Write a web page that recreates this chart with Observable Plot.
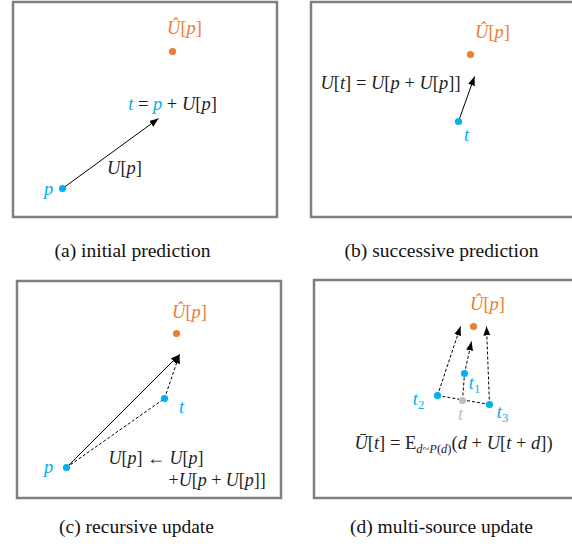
<!DOCTYPE html>
<html><head><meta charset="utf-8">
<script src="https://cdn.jsdelivr.net/npm/d3@7"></script>
<script src="https://cdn.jsdelivr.net/npm/@observablehq/plot@0.6"></script>
<style>body{margin:0;background:#fff} svg{display:block}</style>
</head><body><div id="chart"></div>
<script>
// Panel frames (diagram coordinates, y downward)
const frames = [
  {panel: "a", x1: 13, y1: 2, x2: 277, y2: 217},
  {panel: "b", x1: 311, y1: 2, x2: 584, y2: 217},
  {panel: "c", x1: 17, y1: 281, x2: 281, y2: 498},
  {panel: "d", x1: 314, y1: 280, x2: 584, y2: 498}
];
const captions = [
  {x: 132, y: 250, label: "(a) initial prediction"},
  {x: 441, y: 250, label: "(b) successive prediction"},
  {x: 136, y: 526, label: "(c) recursive update"},
  {x: 441, y: 526, label: "(d) multi-source update"}
];
// Points: kind = source (blue), target (orange), mean (gray)
const points = [
  {panel: "a", x: 62, y: 188, kind: "source"},
  {panel: "a", x: 172, y: 51, kind: "target"},
  {panel: "b", x: 458, y: 121, kind: "source"},
  {panel: "b", x: 470, y: 54, kind: "target"},
  {panel: "c", x: 66, y: 467, kind: "source"},
  {panel: "c", x: 164, y: 398, kind: "source"},
  {panel: "c", x: 176, y: 333, kind: "target"},
  {panel: "d", x: 473, y: 326, kind: "target"},
  {panel: "d", x: 464, y: 373, kind: "source"},
  {panel: "d", x: 437, y: 395, kind: "source"},
  {panel: "d", x: 489, y: 404, kind: "source"},
  {panel: "d", x: 462, y: 400, kind: "mean"}
];
const solidArrows = [
  {panel: "a", x1: 62, y1: 188, x2: 158, y2: 118},
  {panel: "b", x1: 458, y1: 121, x2: 474, y2: 76},
  {panel: "c", x1: 66, y1: 467, x2: 179, y2: 354}
];
const dashedArrows = [
  {panel: "c", x1: 164, y1: 398, x2: 179, y2: 354},
  {panel: "d", x1: 437, y1: 395, x2: 460, y2: 326},
  {panel: "d", x1: 464, y1: 373, x2: 471, y2: 341},
  {panel: "d", x1: 489, y1: 404, x2: 486, y2: 326}
];
const dashedLines = [
  {panel: "c", x1: 66, y1: 467, x2: 164, y2: 398},
  {panel: "d", x1: 437, y1: 395, x2: 489, y2: 404},
  {panel: "d", x1: 462, y1: 400, x2: 464, y2: 373}
];
// Math labels: {b|..} blue, {o|..} orange, {g|..} gray, {_|..} subscript, {r|..} upright
const labelsMiddle = [
  {x: 184, y: 28, m: "{o|Û[p]}"},
  {x: 172, y: 104, m: "{b|t} = {b|p} + U[p]"},
  {x: 124, y: 168, m: "U[p]"},
  {x: 48, y: 189, m: "{b|p}"},
  {x: 492, y: 32, m: "{o|Û[p]}"},
  {x: 390, y: 83, m: "U[t] = U[p + U[p]]"},
  {x: 466, y: 135, m: "{b|t}"},
  {x: 189, y: 312, m: "{o|Û[p]}"},
  {x: 181, y: 407, m: "{b|t}"},
  {x: 48, y: 467, m: "{b|p}"},
  {x: 487, y: 304, m: "{o|Û[p]}"},
  {x: 474, y: 383, m: "{b|t}{b_|1}"},
  {x: 418, y: 399, m: "{b|t}{b_|2}"},
  {x: 502, y: 412, m: "{b|t}{b_|3}"},
  {x: 460, y: 414, m: "{g|t}"}
];
const labelsStart = [
  {x: 108, y: 458, m: "U[p] ← U[p]"},
  {x: 168, y: 480, m: "+U[p + U[p]]"}
];
const formulas = [
  {x: 453, y: 443, m: "Ū[t] = {r|E}{_|d~P(d)}(d + U[t + d])"}
];

const COLORS = {source: "#00b0f0", target: "#ed7d31", mean: "#bfbfbf", ink: "#1e1e1e"};
const NS = "http://www.w3.org/2000/svg";
const SERIF = "'Liberation Serif', 'Times New Roman', serif";

function arrowHead(color) {
  const m = document.createElementNS(NS, "marker");
  m.setAttribute("viewBox", "-9 -4.5 9 9");
  m.setAttribute("markerWidth", "9");
  m.setAttribute("markerHeight", "9");
  m.setAttribute("markerUnits", "userSpaceOnUse");
  m.setAttribute("refX", "0");
  m.setAttribute("refY", "0");
  m.setAttribute("orient", "auto");
  const p = document.createElementNS(NS, "path");
  p.setAttribute("d", "M-9,-3.5L0,0L-9,3.5Z");
  p.setAttribute("fill", "#000");
  p.setAttribute("stroke", "none");
  p.setAttribute("stroke-dasharray", "none");
  m.appendChild(p);
  return m;
}

const plot = Plot.plot({
  width: 572, height: 546, margin: 0,
  x: {domain: [0, 572], range: [0, 572], axis: null},
  y: {domain: [0, 546], range: [0, 546], axis: null},
  color: {type: "identity"},
  style: {background: "#fff", fontFamily: SERIF},
  marks: [
    Plot.rect(frames, {x1: "x1", y1: "y1", x2: "x2", y2: "y2", fill: "none", stroke: "#7f7f7f", strokeWidth: 2.5}),
    Plot.link(dashedLines, {x1: "x1", y1: "y1", x2: "x2", y2: "y2", stroke: "#000", strokeWidth: 1, strokeDasharray: "3,2"}),
    Plot.link(solidArrows, {x1: "x1", y1: "y1", x2: "x2", y2: "y2", stroke: "#000", strokeWidth: 1, markerEnd: arrowHead}),
    Plot.link(dashedArrows, {x1: "x1", y1: "y1", x2: "x2", y2: "y2", stroke: "#000", strokeWidth: 1, strokeDasharray: "3,2", markerEnd: arrowHead}),
    Plot.dot(points, {x: "x", y: "y", r: 3.6, fill: d => COLORS[d.kind], stroke: null}),
    Plot.text(labelsMiddle, {x: "x", y: "y", text: "m", textAnchor: "middle", fontSize: 18.5, fontFamily: SERIF, fill: COLORS.ink}),
    Plot.text(labelsStart, {x: "x", y: "y", text: "m", textAnchor: "start", fontSize: 18, fontFamily: SERIF, fill: COLORS.ink}),
    Plot.text(formulas, {x: "x", y: "y", text: "m", textAnchor: "middle", fontSize: 18.5, fontFamily: SERIF, fill: COLORS.ink}),
    Plot.text(captions, {x: "x", y: "y", text: "label", textAnchor: "middle", fontSize: 19.5, fontFamily: SERIF, fill: "#111"})
  ]
});

// Turn lightweight markup into styled tspans
const markups = new Set([...labelsMiddle, ...labelsStart, ...formulas].map(d => d.m));
d3.select(plot).selectAll("text").each(function() {
  const markup = this.textContent;
  if (!markups.has(markup)) return;
  this.textContent = "";
  const re = /\{([a-z_]*)\|([^}]*)\}|([^{]+)/g;
  let m, shifted = false;
  while ((m = re.exec(markup))) {
    const flags = m[1] !== undefined ? m[1] : "";
    const body = m[1] !== undefined ? m[2] : m[3];
    const runs = body.match(/\p{L}+|[^\p{L}]+/gu) || [];
    for (const run of runs) {
      const ts = document.createElementNS(NS, "tspan");
      ts.textContent = run;
      if (/\p{L}/u.test(run) && !flags.includes("r")) ts.setAttribute("font-style", "italic");
      if (flags.includes("b")) ts.setAttribute("fill", COLORS.source);
      if (flags.includes("o")) ts.setAttribute("fill", COLORS.target);
      if (flags.includes("g")) ts.setAttribute("fill", COLORS.mean);
      if (flags.includes("_")) {
        ts.setAttribute("font-size", "12.5");
        if (!shifted) { ts.setAttribute("dy", "4"); shifted = true; }
      } else if (shifted) {
        ts.setAttribute("dy", "-4"); shifted = false;
      }
      this.appendChild(ts);
    }
  }
});

document.getElementById("chart").appendChild(plot);
</script>
</body></html>
